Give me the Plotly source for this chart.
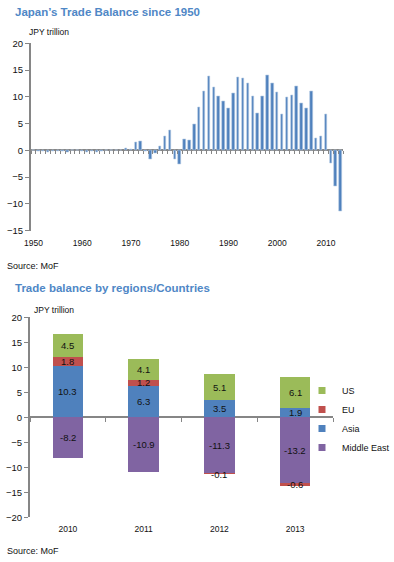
import plotly.graph_objects as go

# ---------------- data ----------------
years = list(range(1950, 2014))
balance = [
    -0.06, -0.13, -0.16, -0.29, -0.16, -0.08, -0.15, -0.36, -0.03, -0.06,   # 1950s
    -0.08, -0.38, -0.08, -0.36, -0.17, 0.10, 0.08, -0.04, 0.11, 0.35,       # 1960s
    0.16, 1.56, 1.74, -0.14, -1.60, -0.56, 0.80, 2.60, 3.80, -1.70,         # 1970s
    -2.60, 2.00, 1.85, 4.90, 8.10, 11.0, 13.9, 11.8, 10.1, 9.1,             # 1980s
    7.8, 10.7, 13.7, 13.5, 12.5, 10.1, 6.9, 10.1, 14.1, 12.5,               # 1990s
    10.8, 6.7, 10.0, 10.3, 12.0, 8.8, 7.9, 11.0, 2.2, 2.7,                  # 2000s
    6.7, -2.4, -6.8, -11.3,                                                 # 2010s
]
decade_ticks = [1950, 1960, 1970, 1980, 1990, 2000, 2010]

reg_years = [2010, 2011, 2012, 2013]
middle_east = [-8.2, -10.9, -11.3, -13.2]
asia = [10.3, 6.3, 3.5, 1.9]
eu = [1.8, 1.2, -0.1, -0.6]
us = [4.5, 4.1, 5.1, 6.1]

series = [
    ("Middle East", middle_east, "#8064A2"),
    ("Asia", asia, "#4F81BD"),
    ("EU", eu, "#C0504D"),
    ("US", us, "#9BBB59"),
]

# ---------------- style ----------------
FONT = "Liberation Sans, Arial, sans-serif"
AXIS_GREY = "#868686"
TITLE_BLUE = "#4F87C6"
W, H = 394, 562

top_x_dom = [31 / W, 343 / W]
top_y_dom = [1 - 230.7 / H, 1 - 43.3 / H]
top_range = [-15, 20]
bot_x_dom = [30 / W, 333 / W]
bot_y_dom = [1 - 517.3 / H, 1 - 317.3 / H]
bot_range = [-20, 20]


def zero_pos(dom, rng):
    return dom[0] + (0 - rng[0]) / (rng[1] - rng[0]) * (dom[1] - dom[0])


fig = go.Figure()

# top chart: annual balance
fig.add_trace(go.Bar(
    x=years, y=balance, xaxis="x", yaxis="y", width=0.5,
    marker=dict(color="#4F81BD", line=dict(color="#B8CCE4", width=0.6)),
    showlegend=False, name="Trade balance",
))
# empty trace for the tick overlay axis
fig.add_trace(go.Scatter(x=[], y=[], xaxis="x3", yaxis="y", showlegend=False))

# bottom chart: stacked by region
pos = [0.0] * len(reg_years)
neg = [0.0] * len(reg_years)
annotations = []
for name, vals, color in series:
    fig.add_trace(go.Bar(
        x=reg_years, y=vals, xaxis="x2", yaxis="y2", width=0.4, name=name,
        marker=dict(color=color, line=dict(width=0)),
        showlegend=False, legendgroup=name,
    ))
    for i, v in enumerate(vals):
        if v >= 0:
            mid = pos[i] + v / 2
            pos[i] += v
        else:
            mid = neg[i] + v / 2
            neg[i] += v
        annotations.append(dict(
            x=reg_years[i], y=mid, xref="x2", yref="y2", text=f"{v:.1f}",
            showarrow=False, font=dict(family=FONT, size=9.5, color="#111111"),
        ))

# legend entries (small square markers)
for name, vals, color in reversed(series):
    fig.add_trace(go.Scatter(
        x=[None], y=[None], xaxis="x2", yaxis="y2", mode="markers", name=name,
        marker=dict(symbol="square", size=7, color=color), legendgroup=name,
    ))
fig.add_trace(go.Scatter(x=[], y=[], xaxis="x4", yaxis="y2", showlegend=False))

ytickfont = dict(family=FONT, size=9.5, color="#111111")
xtickfont = dict(family=FONT, size=8.5, color="#111111")

fig.update_layout(
    width=W, height=H, margin=dict(l=0, r=0, t=0, b=0, autoexpand=False),
    paper_bgcolor="white", plot_bgcolor="white",
    barmode="relative", bargap=0, hovermode=False,
    font=dict(family=FONT, size=9.5, color="#111111"),
    xaxis=dict(domain=top_x_dom, range=[1949.5, 2013.5], anchor="y", automargin=False,
               tickmode="array", tickvals=decade_ticks, ticks="outside", ticklen=4,
               tickcolor="rgba(0,0,0,0)", showline=False, showgrid=False,
               zeroline=False, tickfont=xtickfont),
    yaxis=dict(domain=top_y_dom, range=top_range, dtick=5, anchor="x", automargin=False,
               showline=True, linecolor=AXIS_GREY, linewidth=2,
               ticks="outside", ticklen=4, tickcolor=AXIS_GREY, tickwidth=1,
               showgrid=False, zeroline=True, zerolinecolor=AXIS_GREY, zerolinewidth=2,
               tickfont=ytickfont),
    xaxis3=dict(overlaying="x", anchor="free", position=zero_pos(top_y_dom, top_range),
                range=[1949.5, 2013.5], tick0=1949.5, dtick=1, ticks="outside",
                ticklen=3, tickcolor=AXIS_GREY, tickwidth=1, showticklabels=False,
                showline=False, showgrid=False, zeroline=False, automargin=False),
    xaxis2=dict(domain=bot_x_dom, range=[2009.5, 2013.5], anchor="y2", automargin=False,
                tickmode="array", tickvals=reg_years, ticks="outside", ticklen=3,
                tickcolor="rgba(0,0,0,0)", showline=False, showgrid=False,
                zeroline=False, tickfont=xtickfont),
    yaxis2=dict(domain=bot_y_dom, range=bot_range, dtick=5, anchor="x2", automargin=False,
                showline=True, linecolor=AXIS_GREY, linewidth=2,
                ticks="outside", ticklen=4, tickcolor=AXIS_GREY, tickwidth=1,
                showgrid=False, zeroline=True, zerolinecolor=AXIS_GREY, zerolinewidth=2,
                tickfont=ytickfont),
    xaxis4=dict(overlaying="x2", anchor="free", position=zero_pos(bot_y_dom, bot_range),
                range=[2009.5, 2013.5], tick0=2009.5, dtick=1, ticks="outside",
                ticklen=4, tickcolor=AXIS_GREY, tickwidth=1, showticklabels=False,
                showline=False, showgrid=False, zeroline=False, automargin=False),
    legend=dict(x=302 / W, y=1 - 376 / H, xanchor="left", yanchor="top",
                bgcolor="rgba(0,0,0,0)", font=dict(family=FONT, size=9, color="#111111"),
                itemclick=False, itemdoubleclick=False, tracegroupgap=0),
)

texts = [
    ("<b>Japan\u2019s Trade Balance since 1950</b>", 13, 12.5, 11.5, TITLE_BLUE),
    ("JPY trillion", 27, 31.5, 8.5, "#111111"),
    ("Source: MoF", 5, 266, 9, "#111111"),
    ("<b>Trade balance by regions/Countries</b>", 13, 288, 11.5, TITLE_BLUE),
    ("JPY trillion", 32, 310, 8.5, "#111111"),
    ("Source: MoF", 5, 550.5, 9, "#111111"),
]
for t, x, y, s, c in texts:
    annotations.append(dict(
        text=t, x=x / W, y=1 - y / H, xref="paper", yref="paper",
        xanchor="left", yanchor="middle", showarrow=False,
        font=dict(family=FONT, size=s, color=c),
    ))
fig.update_layout(annotations=annotations)

fig.write_html(
    "out.html",
    config={"displayModeBar": False},
    post_script="document.body.style.margin='0px';document.body.style.overflow='hidden';",
)
